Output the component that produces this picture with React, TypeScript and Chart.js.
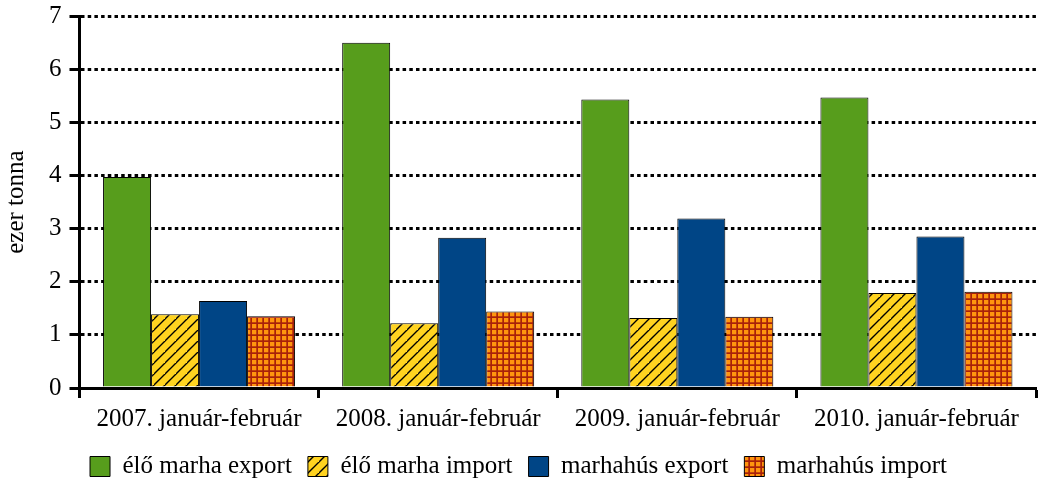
import React, { useEffect, useRef } from "react";
import { Chart, registerables } from "chart.js";

Chart.register(...registerables);

const categories = [
  "2007. január-február",
  "2008. január-február",
  "2009. január-február",
  "2010. január-február",
];
const eloMarhaExport = [3.97, 6.5, 5.43, 5.47];
const eloMarhaImport = [1.39, 1.22, 1.32, 1.79];
const marhahusExport = [1.64, 2.83, 3.19, 2.85];
const marhahusImport = [1.35, 1.44, 1.34, 1.81];
const seriesLabels = [
  "élő marha export",
  "élő marha import",
  "marhahús export",
  "marhahús import",
];
const yTitle = "ezer tonna";

const FONT = "'Liberation Serif', 'DejaVu Serif', serif";
const FS = 25;

function hatchPattern(): CanvasPattern | string {
  const c = document.createElement("canvas");
  const s = 11;
  c.width = s;
  c.height = s;
  const ctx = c.getContext("2d");
  if (!ctx) return "#FFD320";
  ctx.fillStyle = "#FFD320";
  ctx.fillRect(0, 0, s, s);
  ctx.strokeStyle = "#000000";
  ctx.lineWidth = 1.4;
  ctx.beginPath();
  ctx.moveTo(-1, s + 1);
  ctx.lineTo(s + 1, -1);
  ctx.moveTo(-1 - s, s + 1);
  ctx.lineTo(1, -1);
  ctx.moveTo(s - 1, 2 * s + 1);
  ctx.lineTo(2 * s + 1, s - 1);
  ctx.stroke();
  return ctx.createPattern(c, "repeat") || "#FFD320";
}

function gridPattern(): CanvasPattern | string {
  const c = document.createElement("canvas");
  const s = 6;
  c.width = s;
  c.height = s;
  const ctx = c.getContext("2d");
  if (!ctx) return "#FF950E";
  ctx.fillStyle = "#A8200A";
  ctx.fillRect(0, 0, s, s);
  ctx.fillStyle = "#FF950E";
  ctx.fillRect(0, 0, 4.3, 4.3);
  return ctx.createPattern(c, "repeat") || "#FF950E";
}

const legendShift = {
  id: "legendShift",
  afterLayout(chart: any) {
    const lg = chart.legend;
    if (lg) {
      lg.top -= 2;
      lg.bottom -= 2;
    }
  },
};

export default function App() {
  const ref = useRef<HTMLCanvasElement | null>(null);

  useEffect(() => {
    if (!ref.current) return;
    const common = {
      borderColor: "#000",
      borderWidth: 1,
      barPercentage: 1,
      categoryPercentage: 0.803,
    };
    const chart = new Chart(ref.current, {
      type: "bar",
      data: {
        labels: categories,
        datasets: [
          { label: seriesLabels[0], data: eloMarhaExport, backgroundColor: "#579D1C", ...common },
          { label: seriesLabels[1], data: eloMarhaImport, backgroundColor: hatchPattern() as any, ...common },
          { label: seriesLabels[2], data: marhahusExport, backgroundColor: "#004586", ...common },
          { label: seriesLabels[3], data: marhahusImport, backgroundColor: gridPattern() as any, ...common },
        ],
      },
      plugins: [legendShift],
      options: {
        animation: false,
        responsive: false,
        maintainAspectRatio: false,
        layout: { padding: { top: 0, right: 2, left: 1, bottom: -7 } },
        plugins: {
          tooltip: { enabled: false },
          legend: {
            position: "bottom",
            labels: {
              color: "#000",
              font: { family: FONT, size: FS },
              boxWidth: 20,
              boxHeight: 20,
              padding: 16,
            },
          },
        },
        scales: {
          x: {
            grid: {
              display: true,
              drawOnChartArea: false,
              drawTicks: true,
              tickLength: 10,
              tickWidth: 3,
              tickColor: "#000",
              offset: true,
            },
            border: { display: true, color: "#000", width: 3 },
            ticks: {
              color: "#000",
              font: { family: FONT, size: FS },
              padding: 6,
              maxRotation: 0,
            },
          },
          y: {
            min: 0,
            max: 7,
            ticks: {
              stepSize: 1,
              color: "#000",
              font: { family: FONT, size: FS, lineHeight: 0.65 },
              padding: 8,
            },
            grid: {
              color: "#000",
              lineWidth: 3,
              drawTicks: true,
              tickLength: 10,
              tickWidth: 3,
              tickColor: "#000",
              tickBorderDash: [],
            },
            border: { display: true, color: "#000", width: 3, dash: [3.5, 3.2] },
            title: {
              display: true,
              text: yTitle,
              color: "#000",
              font: { family: FONT, size: FS },
              padding: { top: 0, bottom: 10 },
            },
          },
        },
      },
    });
    return () => chart.destroy();
  }, []);

  return (
    <div style={{ position: "absolute", left: 0, top: 0, width: 1038, height: 484, background: "#fff" }}>
      <canvas ref={ref} width={1038} height={484} style={{ width: 1038, height: 484 }} />
    </div>
  );
}
